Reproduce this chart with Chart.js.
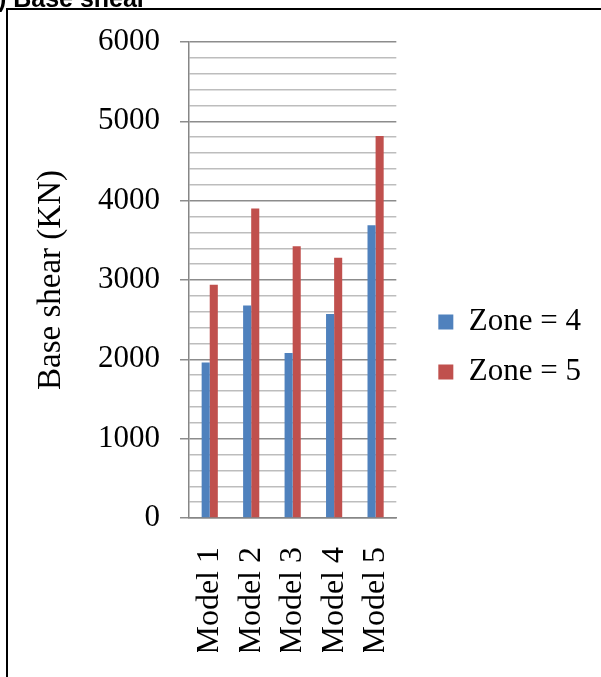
<!DOCTYPE html>
<html>
<head>
<meta charset="utf-8">
<script src="https://cdn.jsdelivr.net/npm/chart.js@4/dist/chart.umd.min.js"></script>
<style>
  html, body { margin: 0; padding: 0; background: #fff; overflow: hidden; }
  #wrap { position: relative; width: 601px; height: 677px; overflow: hidden; }
  #chart { position: absolute; left: 0; top: 0; }
  #caption {
    position: absolute; left: -16px; top: -14px;
    font: bold 25px "Liberation Sans", Arial, sans-serif; line-height: 24px;
    white-space: nowrap; color: #000;
  }
  #frame {
    position: absolute; left: 6px; top: 8px; width: 700px; height: 700px;
    border-left: 2px solid #000; border-top: 2px solid #000;
  }
</style>
</head>
<body>
<div id="wrap">
  <canvas id="chart" width="601" height="677"></canvas>
  <div id="caption">a) Base shear</div>
  <div id="frame"></div>
</div>
<script>
  // Base shear per model, for the two seismic zones
  const models = ["Model 1", "Model 2", "Model 3", "Model 4", "Model 5"];
  const zone4 = [1960, 2680, 2080, 2570, 3690];
  const zone5 = [2940, 3900, 3425, 3280, 4815];

  const serif = "'Liberation Serif', 'Times New Roman', serif";

  new Chart(document.getElementById("chart"), {
    type: "bar",
    data: {
      labels: models,
      datasets: [
        { label: "Zone = 4", data: zone4, backgroundColor: "#4F81BD" },
        { label: "Zone = 5", data: zone5, backgroundColor: "#C0504D" }
      ]
    },
    options: {
      responsive: false,
      animation: false,
      layout: { padding: { top: 42, bottom: 25, left: 0, right: 10 } },
      datasets: { bar: { barPercentage: 1, categoryPercentage: 0.39 } },
      plugins: {
        tooltip: { enabled: false },
        legend: {
          position: "right",
          maxWidth: 220,
          labels: {
            boxWidth: 15, boxHeight: 15, padding: 19, color: "#000",
            font: { family: serif, size: 31 }
          }
        }
      },
      scales: {
        x: {
          grid: { display: false },
          border: { color: "#868686", width: 1.5 },
          ticks: {
            color: "#000", padding: 21, minRotation: 90, maxRotation: 90,
            font: { family: serif, size: 32 }
          },
          afterFit: s => { s.height = 134; }
        },
        y: {
          min: 0, max: 6000,
          border: { color: "#868686", width: 1.5 },
          grid: {
            tickLength: 9,
            lineWidth: 1.5,
            color: c => c.tick.value % 1000 === 0 ? "#8c8c8c" : "#bdbdbd",
            tickColor: c => c.tick.value % 1000 === 0 ? "#8c8c8c" : "rgba(0,0,0,0)"
          },
          ticks: {
            stepSize: 200, autoSkip: false, padding: 20, color: "#000",
            font: { family: serif, size: 31 },
            callback: v => v % 1000 === 0 ? v : ""
          },
          title: {
            display: true, text: "Base shear (KN)", color: "#000",
            padding: { top: 32, bottom: 0 },
            font: { family: serif, size: 33 }
          },
          afterFit: s => { s.width = 189; }
        },
        // empty scale that keeps a gap between the plot and the legend
        gap: {
          position: "right", axis: "y",
          grid: { display: false }, border: { display: false },
          ticks: { display: false },
          afterFit: s => { s.width = 23; }
        }
      }
    }
  });
</script>
</body>
</html>
